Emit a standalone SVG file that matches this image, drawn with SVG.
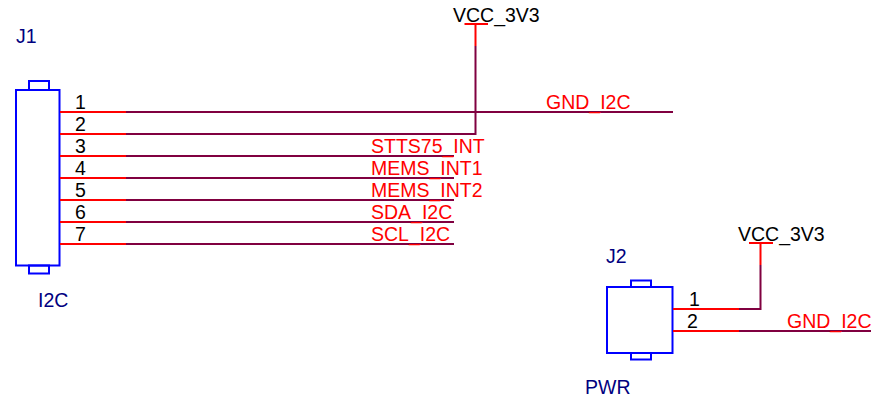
<svg xmlns="http://www.w3.org/2000/svg" width="883" height="400" viewBox="0 0 883 400">
<style>
text{font-family:"Liberation Sans",Arial,sans-serif;font-size:19.5px}
.b{fill:#000}
.n{fill:#000080}
.r{fill:#f00}
.box{fill:none;stroke:#00f;stroke-width:2}
.pin{fill:none;stroke:#f00;stroke-width:2}
.wire{fill:none;stroke:#800040;stroke-width:2}
</style>
<rect width="883" height="400" fill="#fff"/>
<g id="connectors">
<path class="wire" d="M126 112H673M126 134H475.500V46M126 156H454M126 178H454M126 200H454M126 222H454M126 244H454"/>
<path class="wire" d="M739 309H760.500V265M739 331H871"/>
</g>
<g id="J1">
<rect class="box" x="16" y="90" width="43.500" height="175.500"/>
<rect class="box" x="29" y="81" width="20" height="9"/>
<rect class="box" x="29" y="265.500" width="20" height="8"/>
<path class="pin" d="M60 112H126M60 134H126M60 156H126M60 178H126M60 200H126M60 222H126M60 244H126"/>
<text class="n" x="16" y="43">J1</text>
<text class="n" x="38" y="307">I2C</text>
<text class="b" x="75" y="109">1</text>
<text class="b" x="75" y="131">2</text>
<text class="b" x="75" y="153">3</text>
<text class="b" x="75" y="175">4</text>
<text class="b" x="75" y="197">5</text>
<text class="b" x="75" y="219">6</text>
<text class="b" x="75" y="241">7</text>
</g>
<g id="J2">
<rect class="box" x="607" y="287" width="65.500" height="66"/>
<rect class="box" x="631" y="280.500" width="20" height="6.500"/>
<rect class="box" x="631" y="353" width="20" height="6.500"/>
<path class="pin" d="M673 309H739M673 331H739"/>
<text class="n" x="606" y="263">J2</text>
<text class="n" x="585" y="394">PWR</text>
<text class="b" x="689" y="306">1</text>
<text class="b" x="687" y="328">2</text>
</g>
<g id="VCC1">
<path class="pin" d="M464.500 24H488M475.500 24V46"/>
<text class="b" x="453" y="22">VCC_3V3</text>
</g>
<g id="VCC2">
<path class="pin" d="M749 243H773M760.500 243V265"/>
<text class="b" x="738" y="241">VCC_3V3</text>
</g>
<g id="nets">
<text class="r" x="546" y="109">GND_I2C</text>
<text class="r" x="371" y="153">STTS75_INT</text>
<text class="r" x="371" y="175">MEMS_INT1</text>
<text class="r" x="371" y="197">MEMS_INT2</text>
<text class="r" x="371" y="219">SDA_I2C</text>
<text class="r" x="371" y="241">SCL_I2C</text>
<text class="r" x="787" y="328">GND_I2C</text>
</g>
</svg>
